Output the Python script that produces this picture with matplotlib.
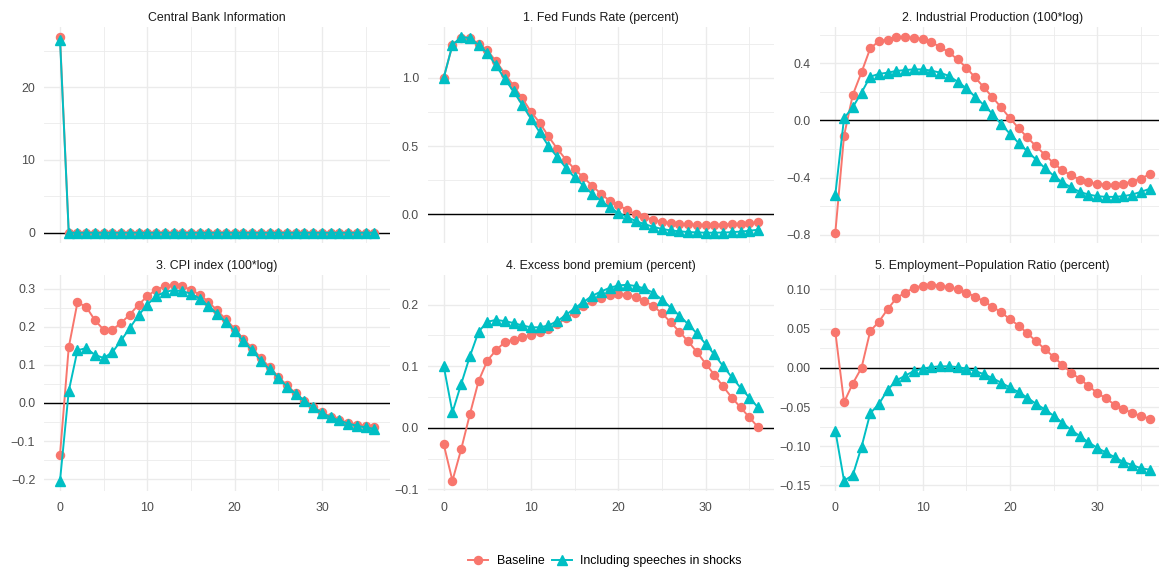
import matplotlib
matplotlib.use("Agg")
import matplotlib.pyplot as plt
from matplotlib.lines import Line2D

plt.rcParams["font.family"] = ["Liberation Sans", "DejaVu Sans"]

horizon = list(range(37))

# impulse responses, one pair of series per panel
cbi_base = [26.9, 0, 0, 0, 0, 0, 0, 0, 0, 0, 0, 0, 0, 0, 0, 0, 0, 0, 0,
            0, 0, 0, 0, 0, 0, 0, 0, 0, 0, 0, 0, 0, 0, 0, 0, 0, 0]
cbi_speech = [26.5, 0, 0, 0, 0, 0, 0, 0, 0, 0, 0, 0, 0, 0, 0, 0, 0, 0, 0,
              0, 0, 0, 0, 0, 0, 0, 0, 0, 0, 0, 0, 0, 0, 0, 0, 0, 0]

ffr_base = [1.00, 1.24, 1.29, 1.29, 1.25, 1.20, 1.12, 1.03, 0.94, 0.85,
            0.75, 0.67, 0.57, 0.48, 0.40, 0.33, 0.27, 0.21, 0.15, 0.10,
            0.07, 0.03, 0.00, -0.022, -0.04, -0.055, -0.064, -0.07, -0.074, -0.076,
            -0.077, -0.077, -0.075, -0.072, -0.068, -0.064, -0.059]
ffr_speech = [1.00, 1.24, 1.30, 1.29, 1.24, 1.18, 1.09, 0.99, 0.90, 0.80,
              0.70, 0.60, 0.50, 0.42, 0.34, 0.27, 0.21, 0.15, 0.10, 0.05,
              0.01, -0.02, -0.05, -0.072, -0.092, -0.108, -0.118, -0.125, -0.13, -0.133,
              -0.135, -0.135, -0.134, -0.131, -0.127, -0.121, -0.113]

ip_base = [-0.786, -0.107, 0.179, 0.337, 0.505, 0.556, 0.567, 0.586, 0.586, 0.579,
           0.570, 0.547, 0.516, 0.477, 0.428, 0.370, 0.302, 0.233, 0.163, 0.091,
           0.016, -0.054, -0.119, -0.181, -0.240, -0.298, -0.349, -0.384, -0.414, -0.433,
           -0.444, -0.449, -0.449, -0.442, -0.428, -0.407, -0.377]
ip_speech = [-0.519, 0.016, 0.093, 0.195, 0.307, 0.326, 0.335, 0.347, 0.353, 0.358,
             0.358, 0.349, 0.335, 0.312, 0.272, 0.226, 0.167, 0.109, 0.047, -0.026,
             -0.093, -0.158, -0.216, -0.274, -0.333, -0.386, -0.433, -0.468, -0.500, -0.519,
             -0.530, -0.535, -0.535, -0.530, -0.519, -0.500, -0.479]

cpi_base = [-0.136, 0.146, 0.264, 0.252, 0.217, 0.192, 0.192, 0.210, 0.232, 0.258,
            0.280, 0.297, 0.306, 0.310, 0.306, 0.297, 0.284, 0.265, 0.243, 0.219,
            0.195, 0.168, 0.144, 0.118, 0.094, 0.069, 0.046, 0.025, 0.006, -0.010,
            -0.025, -0.036, -0.045, -0.052, -0.057, -0.061, -0.064]
cpi_speech = [-0.204, 0.031, 0.138, 0.144, 0.126, 0.118, 0.133, 0.164, 0.197, 0.230,
              0.258, 0.280, 0.291, 0.296, 0.293, 0.287, 0.274, 0.254, 0.234, 0.212,
              0.188, 0.162, 0.138, 0.111, 0.088, 0.066, 0.043, 0.024, 0.006, -0.011,
              -0.026, -0.038, -0.046, -0.054, -0.060, -0.064, -0.068]

ebp_base = [-0.027, -0.086, -0.035, 0.022, 0.076, 0.109, 0.126, 0.139, 0.143, 0.147,
            0.150, 0.155, 0.160, 0.168, 0.178, 0.187, 0.197, 0.205, 0.211, 0.215,
            0.217, 0.216, 0.212, 0.206, 0.197, 0.186, 0.171, 0.156, 0.140, 0.123,
            0.104, 0.086, 0.067, 0.049, 0.033, 0.017, 0.001]
ebp_speech = [0.100, 0.025, 0.071, 0.116, 0.156, 0.172, 0.175, 0.173, 0.170, 0.166,
              0.163, 0.163, 0.166, 0.173, 0.183, 0.194, 0.204, 0.214, 0.221, 0.227,
              0.231, 0.232, 0.230, 0.226, 0.219, 0.208, 0.195, 0.182, 0.168, 0.153,
              0.136, 0.119, 0.100, 0.082, 0.065, 0.049, 0.033]

emp_base = [0.046, -0.044, -0.020, 0.000, 0.047, 0.059, 0.075, 0.089, 0.096, 0.102,
            0.105, 0.106, 0.105, 0.103, 0.100, 0.096, 0.091, 0.085, 0.078, 0.071,
            0.062, 0.054, 0.044, 0.034, 0.024, 0.014, 0.004, -0.006, -0.014, -0.023,
            -0.032, -0.039, -0.047, -0.052, -0.058, -0.061, -0.065]
emp_speech = [-0.080, -0.144, -0.137, -0.101, -0.058, -0.046, -0.028, -0.016, -0.010, -0.004,
              -0.001, 0.001, 0.002, 0.002, 0.001, -0.001, -0.004, -0.008, -0.013, -0.019,
              -0.025, -0.031, -0.038, -0.046, -0.053, -0.061, -0.070, -0.079, -0.087, -0.095,
              -0.102, -0.108, -0.114, -0.120, -0.124, -0.128, -0.130]

titles = [
    "Central Bank Information",
    "1. Fed Funds Rate (percent)",
    "2. Industrial Production (100*log)",
    "3. CPI index (100*log)",
    "4. Excess bond premium (percent)",
    "5. Employment\u2212Population Ratio (percent)",
]
baseline = [cbi_base, ffr_base, ip_base, cpi_base, ebp_base, emp_base]
speeches = [cbi_speech, ffr_speech, ip_speech, cpi_speech, ebp_speech, emp_speech]
y_breaks = [
    [0, 10, 20],
    [0.0, 0.5, 1.0],
    [-0.8, -0.4, 0.0, 0.4],
    [-0.2, -0.1, 0.0, 0.1, 0.2, 0.3],
    [-0.1, 0.0, 0.1, 0.2],
    [-0.15, -0.10, -0.05, 0.00, 0.05, 0.10],
]
y_decimals = [0, 1, 1, 1, 1, 2]
x_breaks = [0, 10, 20, 30]
series_labels = ["Baseline", "Including speeches in shocks"]

RED = "#F8766D"
TEAL = "#00BFC4"
GRID = "#EBEBEB"
TEXT = "#4D4D4D"
FS = 8.9

W, H = 1159, 571
fig = plt.figure(figsize=(W / 100, H / 100), dpi=100)

col_left = [44.3, 428.0, 819.6]
panel_w = 345.7
row_top = [27.0, 275.0]
panel_h = 215.5


def minor_between(breaks):
    step = breaks[1] - breaks[0]
    pts = [breaks[0] - step / 2]
    pts += [b + step / 2 for b in breaks]
    return pts


for i in range(6):
    r, c = divmod(i, 3)
    ax = fig.add_axes([col_left[c] / W, 1 - (row_top[r] + panel_h) / H, panel_w / W, panel_h / H])

    ax.axhline(0, color="black", lw=1.0, zorder=2)
    ax.plot(horizon, baseline[i], color=RED, lw=1.4, marker="o", ms=5.8, zorder=3)
    ax.plot(horizon, speeches[i], color=TEAL, lw=1.4, marker="^", ms=6.6, zorder=4)

    # 5% padding on both axes; keep it after the ticks are set
    lo = min(baseline[i] + speeches[i])
    hi = max(baseline[i] + speeches[i])
    pad = (hi - lo) * 0.05
    ylim = (lo - pad, hi + pad)

    ax.set_xticks(x_breaks)
    ax.set_xticks(minor_between(x_breaks), minor=True)
    ax.set_yticks(y_breaks[i])
    ax.set_yticks(minor_between(y_breaks[i]), minor=True)
    fmt = "{:.%df}" % y_decimals[i]
    ax.set_yticklabels([fmt.format(v).replace("-", "\u2212") for v in y_breaks[i]])
    if r == 1:
        ax.set_xticklabels([str(v) for v in x_breaks])
    else:
        ax.set_xticklabels([])
    ax.set_xlim(-1.8, 37.8)
    ax.set_ylim(*ylim)

    ax.grid(which="major", color=GRID, lw=1.0, zorder=0)
    ax.grid(which="minor", color=GRID, lw=0.6, zorder=0)
    ax.set_axisbelow(True)
    for s in ax.spines.values():
        s.set_visible(False)
    ax.tick_params(which="both", length=0, labelsize=FS, labelcolor=TEXT)
    ax.tick_params(axis="y", pad=6.5)
    ax.tick_params(axis="x", pad=8)
    ax.set_title(titles[i], fontsize=FS, color="#1A1A1A", pad=4.5)

handles = [
    Line2D([], [], color=RED, lw=1.4, marker="o", ms=5.8),
    Line2D([], [], color=TEAL, lw=1.4, marker="^", ms=6.6),
]
fig.legend(handles, series_labels, loc="center", bbox_to_anchor=(0.522, 1 - 561 / H),
           ncol=2, frameon=False, fontsize=FS, handlelength=1.6,
           handletextpad=0.7, columnspacing=0.6)

plt.savefig("out.png", dpi=100)
plt.close()
